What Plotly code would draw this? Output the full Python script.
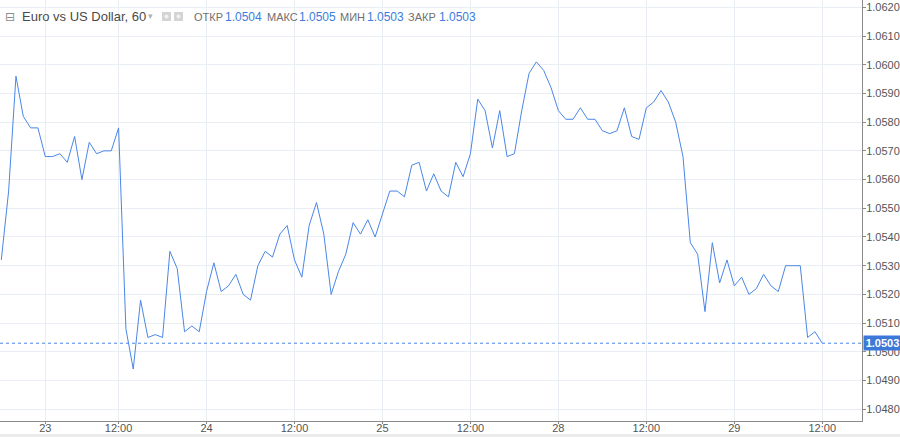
import plotly.graph_objects as go

# ---- data ----
close = [1.0532, 1.0556, 1.0596, 1.0582, 1.0578, 1.0578, 1.0568, 1.0568, 1.0569, 1.0566,
         1.0575, 1.0560, 1.0573, 1.0569, 1.0570, 1.0570, 1.0578, 1.0508, 1.0494, 1.0518,
         1.0505, 1.0506, 1.0505, 1.0535, 1.0529, 1.0507, 1.0509, 1.0507, 1.0521, 1.0531,
         1.0521, 1.0523, 1.0527, 1.0520, 1.0518, 1.0530, 1.0535, 1.0533, 1.0541, 1.0544,
         1.0532, 1.0526, 1.0544, 1.0552, 1.0541, 1.0520, 1.0528, 1.0534, 1.0545, 1.0541,
         1.0546, 1.0540, 1.0548, 1.0556, 1.0556, 1.0554, 1.0565, 1.0566, 1.0556, 1.0562,
         1.0556, 1.0554, 1.0566, 1.0561, 1.0569, 1.0588, 1.0584, 1.0571, 1.0584, 1.0568,
         1.0569, 1.0584, 1.0597, 1.0601, 1.0598, 1.0592, 1.0584, 1.0581, 1.0581, 1.0585,
         1.0581, 1.0581, 1.0577, 1.0576, 1.0577, 1.0585, 1.0575, 1.0574, 1.0585, 1.0587,
         1.0591, 1.0587, 1.0580, 1.0568, 1.0538, 1.0534, 1.0514, 1.0538, 1.0524, 1.0532,
         1.0523, 1.0526, 1.0520, 1.0522, 1.0527, 1.0523, 1.0521, 1.0530, 1.0530, 1.0530,
         1.0505, 1.0507, 1.0503]
bar_index = list(range(len(close)))
x_tick_bars = [6, 16, 28, 40, 52, 64, 76, 88, 100, 112]
x_tick_labels = ["23", "12:00", "24", "12:00", "25", "12:00", "28", "12:00", "29", "12:00"]
y_ticks = [1.048, 1.049, 1.050, 1.051, 1.052, 1.053, 1.054, 1.055, 1.056, 1.057,
           1.058, 1.059, 1.060, 1.061, 1.062]
last_price = 1.0503
header_labels = ["ОТКР", "МАКС", "МИН", "ЗАКР"]
header_values = ["1.0504", "1.0505", "1.0503", "1.0503"]

LINE = "#4a86e8"
BLUE_TXT = "#3b7ddd"
GRID = "#e9eef5"
AX = "#8a8a8a"
FONT = "Liberation Sans, Arial, sans-serif"

W, H = 900, 437
ML, MR, MT, MB = 0, 38, 0, 16
PW = W - ML - MR
PH = H - MT - MB


def px(x):
    return x / PW


def py(y):
    return 1 - (y - MT) / PH


fig = go.Figure()
fig.update_layout(
    width=W, height=H,
    margin=dict(l=ML, r=MR, t=MT, b=MB, autoexpand=False),
    paper_bgcolor="white", plot_bgcolor="white",
    font=dict(family=FONT, size=11, color="#555555"),
    xaxis=dict(range=[-1.3 / 7.33, (PW - 1.3) / 7.33], tickmode="array",
               tickvals=x_tick_bars, ticktext=x_tick_labels,
               showgrid=True, gridcolor=GRID, gridwidth=1,
               showline=True, linecolor=AX, linewidth=1,
               ticks="outside", ticklen=2, tickcolor=AX,
               ticklabelstandoff=-5,
               tickfont=dict(size=11, color="#555555"), zeroline=False,
               fixedrange=True, automargin=False),
    yaxis=dict(side="right", range=[1.047591, 1.062254], tickmode="array",
               tickvals=y_ticks, tickformat=".4f",
               showgrid=True, gridcolor=GRID, gridwidth=1,
               showline=True, linecolor=AX, linewidth=1,
               ticks="outside", ticklen=3, tickcolor=AX,
               ticklabelstandoff=-2,
               tickfont=dict(size=11, color="#555555"), zeroline=False,
               fixedrange=True, automargin=False),
)

fig.add_trace(go.Scatter(x=bar_index, y=close, mode="lines",
                         line=dict(color=LINE, width=1), hoverinfo="x+y",
                         showlegend=False))

# last price dotted line
fig.add_shape(type="line", xref="paper", yref="y", x0=0, x1=1,
              y0=last_price, y1=last_price,
              line=dict(color=LINE, width=1, dash="dot"))

# header
fig.add_annotation(xref="paper", yref="paper", x=px(3), y=py(16.5), text="⊟",
                   showarrow=False, xanchor="left", yanchor="middle",
                   font=dict(family="DejaVu Sans", size=12, color="#8a8a8a"))
fig.add_annotation(xref="paper", yref="paper", x=px(20), y=py(16.5),
                   text="Euro vs US Dollar, 60", showarrow=False,
                   xanchor="left", yanchor="middle",
                   font=dict(family=FONT, size=13, color="#4a4a4a"))
fig.add_annotation(xref="paper", yref="paper", x=px(146), y=py(16), text="▾",
                   showarrow=False, xanchor="left", yanchor="middle",
                   font=dict(family="DejaVu Sans", size=9, color="#b0b0b0"))
label_x = [192, 265, 338, 406]
value_x = [223, 297, 365, 437]
for lx, vx, lab, val in zip(label_x, value_x, header_labels, header_values):
    fig.add_annotation(xref="paper", yref="paper", x=px(lx), y=py(16.5), text=lab,
                       showarrow=False, xanchor="left", yanchor="middle",
                       font=dict(family=FONT, size=11, color="#707070"))
    fig.add_annotation(xref="paper", yref="paper", x=px(vx), y=py(16.5), text=val,
                       showarrow=False, xanchor="left", yanchor="middle",
                       font=dict(family=FONT, size=12, color=BLUE_TXT))

# header icons
for x0 in (162, 174):
    fig.add_shape(type="rect", xref="paper", yref="paper",
                  x0=px(x0), x1=px(x0 + 9), y0=py(21), y1=py(12),
                  fillcolor="#d4d4d4", line=dict(width=0))
    fig.add_shape(type="circle", xref="paper", yref="paper",
                  x0=px(x0 + 2.5), x1=px(x0 + 6.5), y0=py(18.5), y1=py(14.5),
                  fillcolor="#f2f2f2", line=dict(width=0))

# bottom frame strip
fig.add_shape(type="rect", xref="paper", yref="paper",
              x0=0, x1=W / PW, y0=py(434), y1=py(438),
              fillcolor="#ebebeb", line=dict(width=0), layer="below")

# price label on the axis
fig.add_annotation(x=1, y=last_price, xref="paper", yref="y", text="<b>1.0503</b>",
                   showarrow=False, xanchor="left", yanchor="middle", xshift=1,
                   bgcolor="#3c78d8", font=dict(family=FONT, size=11, color="white"),
                   width=35, height=12, borderpad=1, align="center")

fig.write_html("out.html", config={"displayModeBar": False},
               post_script="document.body.style.margin='0px';document.body.style.overflow='hidden';")
